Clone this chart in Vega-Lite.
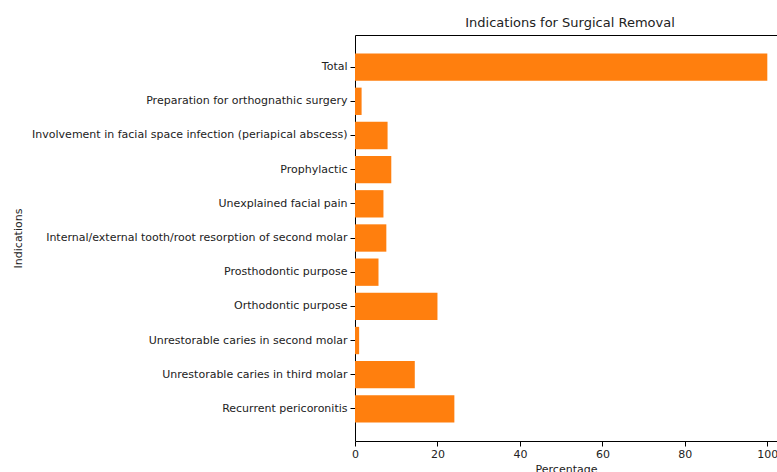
{
  "$schema": "https://vega.github.io/schema/vega-lite/v6.json",
  "autosize": "none",
  "width": 422,
  "height": 406,
  "padding": {"left": 355, "top": 35, "right": 0, "bottom": 31},
  "background": "white",
  "config": {
    "view": {"stroke": null},
    "font": "DejaVu Sans",
    "axis": {"labelFont": "DejaVu Sans", "titleFont": "DejaVu Sans", "labelFontSize": 11, "titleFontSize": 11, "titleFontWeight": "normal", "labelColor": "#222", "titleColor": "#222", "domainColor": "#000", "tickColor": "#000", "tickSize": 5, "grid": false}
  },
  "title": {"text": "Indications for Surgical Removal", "frame": "group", "anchor": "middle", "font": "DejaVu Sans", "fontSize": 13, "fontWeight": "normal", "color": "#222", "offset": 5, "dx": 4},
  "data": {"values": [
    {"Indication": "Total", "Percentage": 100},
    {"Indication": "Preparation for orthognathic surgery", "Percentage": 1.6},
    {"Indication": "Involvement in facial space infection (periapical abscess)", "Percentage": 7.9},
    {"Indication": "Prophylactic", "Percentage": 8.8},
    {"Indication": "Unexplained facial pain", "Percentage": 6.9},
    {"Indication": "Internal/external tooth/root resorption of second molar", "Percentage": 7.6},
    {"Indication": "Prosthodontic purpose", "Percentage": 5.7},
    {"Indication": "Orthodontic purpose", "Percentage": 20.0},
    {"Indication": "Unrestorable caries in second molar", "Percentage": 1.0},
    {"Indication": "Unrestorable caries in third molar", "Percentage": 14.5},
    {"Indication": "Recurrent pericoronitis", "Percentage": 24.1}
  ]},
  "layer": [
    {
      "mark": {"type": "bar", "color": "#ff7f0e"},
      "encoding": {
        "y": {"field": "Indication", "type": "nominal", "sort": null,
              "scale": {"paddingInner": 0.2, "paddingOuter": 0.54},
              "axis": {"title": "Indications", "labelPadding": 3, "labelLimit": 400, "titleX": -332, "titleY": 203, "titleAnchor": "middle"}},
        "x": {"field": "Percentage", "type": "quantitative",
              "scale": {"domain": [0, 102.35], "nice": false, "zero": true},
              "axis": {"title": "Percentage", "values": [0, 20, 40, 60, 80, 100], "labelPadding": 2, "titlePadding": 4, "labelFlush": false}}
      }
    },
    {
      "mark": {"type": "bar", "opacity": 0},
      "encoding": {
        "y": {"field": "Indication", "type": "nominal", "sort": null},
        "x": {"field": "Percentage", "type": "quantitative",
              "axis": {"orient": "top", "title": null, "labels": false, "ticks": false, "domain": true}}
      }
    }
  ],
  "resolve": {"axis": {"x": "independent"}}
}
